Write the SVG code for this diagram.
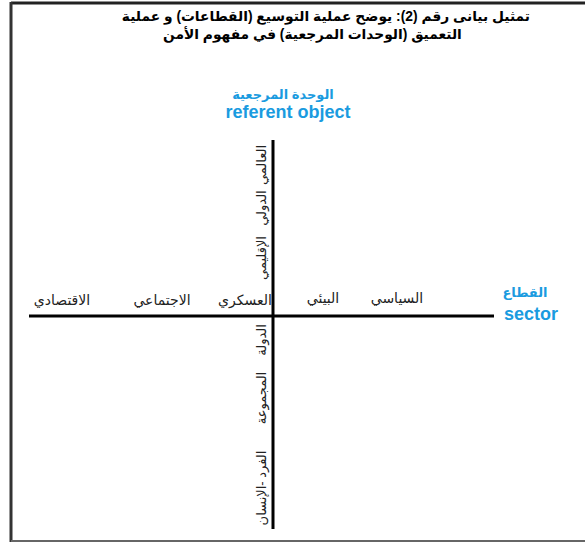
<svg xmlns="http://www.w3.org/2000/svg" width="585" height="542" viewBox="0 0 585 542">
<style>
.title{font-family:"Liberation Sans","DejaVu Sans",sans-serif;font-size:13.8px;font-weight:bold;fill:#000;}
.lbl{font-family:"Liberation Sans","DejaVu Sans",sans-serif;font-size:14px;fill:#222;}
.vl{font-family:"Liberation Sans","DejaVu Sans",sans-serif;font-size:13px;fill:#222;}
.blue{font-family:"Liberation Sans","DejaVu Sans",sans-serif;font-weight:bold;fill:#1a9be0;}
.axis{stroke:#000;stroke-width:3;fill:none;}
</style>
<rect width="585" height="542" fill="#fff"/>
<g id="frame">
<line x1="11" y1="3" x2="585" y2="3" stroke="#222" stroke-width="3"/>
<line x1="11" y1="2" x2="11" y2="542" stroke="#333" stroke-width="3"/>
<line x1="11" y1="541" x2="585" y2="541" stroke="#666" stroke-width="2"/>
</g>
<g id="title">
<text class="title" x="530" y="21" text-anchor="start" direction="rtl">تمثيل بيانى رقم (2): يوضح عملية التوسيع (القطاعات) و عملية</text>
<text class="title" x="163" y="39" text-anchor="end" direction="rtl">التعميق (الوحدات المرجعية) في مفهوم الأمن</text>
</g>
<g id="connectors">
<line class="axis" x1="273" y1="140" x2="273" y2="529"/>
<line class="axis" x1="29" y1="316" x2="494" y2="316"/>
</g>
<g id="referent">
<text class="blue" x="283" y="99" font-size="13" text-anchor="middle">الوحدة المرجعية</text>
<text class="blue" x="288" y="118" font-size="18" text-anchor="middle">referent object</text>
</g>
<g id="sector">
<text class="blue" x="525" y="297" font-size="13" text-anchor="middle">القطاع</text>
<text class="blue" x="531" y="320" font-size="18" text-anchor="middle">sector</text>
</g>
<g id="h-labels">
<text class="lbl" x="62" y="305" text-anchor="middle">الاقتصادي</text>
<text class="lbl" x="162" y="305" text-anchor="middle">الاجتماعي</text>
<text class="lbl" x="245" y="305" text-anchor="middle">العسكري</text>
<text class="lbl" x="323" y="303" text-anchor="middle">البيئي</text>
<text class="lbl" x="397" y="303" text-anchor="middle">السياسي</text>
</g>
<g id="v-labels">
<text class="vl" transform="translate(266,165) rotate(-90)" text-anchor="middle">العالمي</text>
<text class="vl" transform="translate(266,208) rotate(-90)" text-anchor="middle">الدولي</text>
<text class="vl" transform="translate(266,258) rotate(-90)" text-anchor="middle">الإقليمي</text>
<text class="vl" transform="translate(266,340) rotate(-90)" text-anchor="middle">الدولة</text>
<text class="vl" transform="translate(266,398) rotate(-90)" text-anchor="middle">المجموعة</text>
<text class="vl" transform="translate(266,488) rotate(-90)" text-anchor="middle">الفرد -الإنسان</text>
</g>
</svg>
